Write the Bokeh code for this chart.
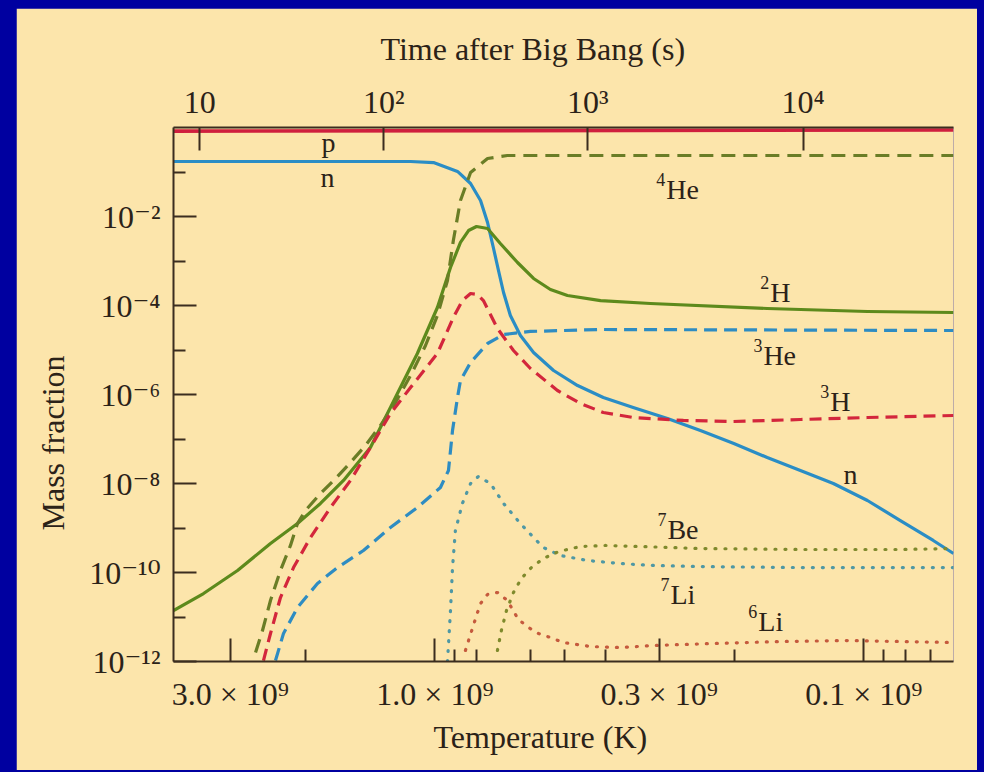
from bokeh.plotting import figure
from bokeh.models import Range1d, LogAxis, FixedTicker, Title, ColumnDataSource
from bokeh.embed import file_html
from bokeh.resources import INLINE
from bokeh.core.properties import value

# ---------------- data ----------------
# temperature in units of 1e9 K (x), mass fraction (y)
p_T = [4.07, 0.0618]
p_X = [0.83, 0.88]

n_T = [4.07, 2.06, 1.14, 1.008, 0.886, 0.826, 0.783, 0.754, 0.731, 0.711, 0.692, 0.667,
       0.632, 0.589, 0.529, 0.465, 0.405, 0.345, 0.287, 0.2405, 0.201, 0.168, 0.1406,
       0.1178, 0.0981, 0.0822, 0.0689, 0.0618]
n_X = [0.172, 0.172, 0.172, 0.163, 0.103, 0.0552, 0.0229, 7.33e-3, 2.01e-3, 6.12e-4,
       1.96e-4, 5.96e-5, 2.12e-5, 8.79e-6, 3.46e-6, 1.59e-6, 8.57e-7, 5.10e-7, 2.89e-7,
       1.55e-7, 7.92e-8, 3.84e-8, 1.96e-8, 1.0e-8, 4.15e-9, 1.47e-9, 5.24e-10, 2.67e-10]

h2_T = [4.07, 3.464, 2.886, 2.418, 2.092, 1.849, 1.634, 1.414, 1.270, 1.099, 0.987, 0.920,
        0.872, 0.835, 0.800, 0.754, 0.704, 0.642, 0.589, 0.538, 0.491, 0.411, 0.3145, 0.168,
        0.0981, 0.0618]
h2_X = [1.40e-11, 3.37e-11, 1.11e-10, 4.49e-10, 1.26e-9, 3.56e-9, 1.17e-8, 6.44e-8, 5.10e-7,
        8.34e-6, 9.02e-5, 7.14e-4, 2.61e-3, 4.84e-3, 5.96e-3, 5.37e-3, 2.47e-3, 9.25e-4,
        4.05e-4, 2.29e-4, 1.68e-4, 1.29e-4, 1.11e-4, 8.57e-5, 7.33e-5, 6.97e-5]

he4_T = [2.620, 2.524, 2.418, 2.292, 2.172, 2.092, 2.004, 1.849, 1.706, 1.574, 1.452, 1.340,
         1.236, 1.140, 1.052, 0.987, 0.935, 0.906, 0.872, 0.826, 0.754, 0.678, 0.0618]
he4_X = [1.59e-12, 4.98e-12, 2.35e-11, 1.11e-10, 4.05e-10, 1.26e-9, 2.47e-9, 5.96e-9, 1.29e-8,
         2.96e-8, 7.15e-8, 2.01e-7, 6.61e-7, 2.67e-6, 1.26e-5, 5.96e-5, 3.65e-4, 2.89e-3,
         0.0229, 0.0975, 0.201, 0.235, 0.235]

h3_T = [2.511, 2.418, 2.292, 2.137, 1.951, 1.752, 1.574, 1.414, 1.270, 1.140, 0.987, 0.906,
        0.863, 0.826, 0.796, 0.771, 0.715, 0.656, 0.599, 0.518, 0.458, 0.405, 0.345, 0.2635,
        0.2014, 0.1406, 0.0981, 0.0618]
h3_X = [1.05e-12, 4.26e-12, 2.74e-11, 1.29e-10, 6.12e-10, 2.89e-9, 1.17e-8, 6.44e-8, 3.74e-7,
        1.44e-6, 8.34e-6, 5.37e-5, 1.29e-4, 1.86e-4, 1.77e-4, 1.29e-4, 3.04e-5, 9.75e-6,
        3.84e-6, 1.23e-6, 6.28e-7, 3.94e-7, 3.04e-7, 2.61e-7, 2.47e-7, 2.74e-7, 3.04e-7,
        3.37e-7]

he3_T = [2.354, 2.255, 2.092, 1.879, 1.688, 1.468, 1.270, 1.099, 0.971, 0.930, 0.910, 0.886,
         0.872, 0.826, 0.754, 0.692, 0.599, 0.411, 0.0618]
he3_X = [1.05e-12, 4.26e-12, 1.63e-11, 5.66e-11, 1.29e-10, 3.12e-10, 1.03e-9, 2.89e-9, 8.13e-9,
         1.96e-8, 1.55e-7, 8.57e-7, 2.06e-6, 5.24e-6, 1.40e-5, 2.23e-5, 2.61e-5, 2.89e-5, 2.74e-5]

li7_T = [0.935, 0.920, 0.910, 0.896, 0.863, 0.826, 0.792, 0.742, 0.692, 0.632, 0.589, 0.559,
         0.510, 0.441, 0.3695, 0.3095, 0.2405, 0.1406, 0.0618]
li7_X = [1.0e-12, 1.40e-11, 1.29e-10, 8.79e-10, 3.56e-9, 1.0e-8, 1.44e-8, 1.0e-8, 3.56e-9,
         1.26e-9, 6.12e-10, 3.65e-10, 2.41e-10, 1.86e-10, 1.59e-10, 1.44e-10, 1.36e-10,
         1.29e-10, 1.29e-10]

be7_T = [0.715, 0.700, 0.681, 0.656, 0.629, 0.596, 0.559, 0.515, 0.458, 0.4004, 0.332, 0.2405,
         0.1406, 0.0822, 0.0618]
be7_X = [1.77e-12, 4.98e-12, 1.40e-11, 3.56e-11, 7.33e-11, 1.29e-10, 2.06e-10, 2.96e-10,
         3.84e-10, 4.05e-10, 3.84e-10, 3.46e-10, 3.29e-10, 3.29e-10, 3.46e-10]

li6_T = [0.849, 0.835, 0.818, 0.800, 0.783, 0.754, 0.715, 0.678, 0.639, 0.605, 0.574, 0.538,
         0.502, 0.434, 0.3695, 0.3095, 0.2243, 0.1565, 0.1093, 0.0618]
li6_X = [1.77e-12, 2.96e-12, 5.52e-12, 1.08e-11, 2.01e-11, 3.21e-11, 3.56e-11, 2.35e-11,
         8.79e-12, 5.81e-12, 4.26e-12, 3.46e-12, 2.67e-12, 2.17e-12, 2.06e-12, 2.29e-12,
         2.54e-12, 2.81e-12, 2.96e-12, 2.67e-12]

# curve labels
label_base = ["p", "n", "He", "H", "He", "H", "n", "Be", "Li", "Li"]
label_sup = ["", "", "4", "2", "3", "3", "", "7", "7", "6"]
label_T = [1.839, 1.849, 0.2887, 0.1652, 0.1715, 0.1197, 0.1116, 0.2871, 0.2825, 0.1762]
label_X = [0.304, 0.0497, 0.0267, 1.29e-4, 4.98e-6, 4.60e-7, 1.05e-8, 6.12e-10, 2.12e-11, 5.24e-12]

# axis ticks
temp_ticks = [3.0, 1.0, 0.3, 0.1]
temp_labels = ["3.0 × 10⁹", "1.0 × 10⁹", "0.3 × 10⁹", "0.1 × 10⁹"]
temp_minor = [2.0, 0.9, 0.8, 0.6, 0.5, 0.4, 0.2, 0.09, 0.08, 0.07]

frac_ticks = [1e-12, 1e-10, 1e-8, 1e-6, 1e-4, 1e-2]
frac_labels = ["10⁻¹²", "10⁻¹⁰", "10⁻⁸", "10⁻⁶", "10⁻⁴", "10⁻²"]
frac_minor = [1e-11, 1e-9, 1e-7, 1e-5, 1e-3, 1e-1]

time_ticks_T = [3.534, 1.316, 0.4402, 0.1385]   # temperature at t = 10, 100, 1000, 10000 s
time_labels = ["10", "10²", "10³", "10⁴"]

# ---------------- styling ----------------
FONT = "Liberation Serif, DejaVu Serif"
TEXT = "#2b2218"
AXIS = "#3b2d1f"
TAN = "#fce5ab"
BLUE = "#0000a0"

p = figure(width=961, height=762, x_axis_type="log", y_axis_type="log",
           x_range=Range1d(4.07, 0.0618), y_range=Range1d(1e-12, 1.0),
           output_backend="svg", toolbar_location=None,
           min_border_left=157, min_border_right=24, min_border_top=119, min_border_bottom=109,
           background_fill_color=TAN, border_fill_color=TAN, outline_line_color=None)
p.xgrid.visible = False
p.ygrid.visible = False


def style_axis(ax):
    ax.axis_line_color = AXIS
    ax.axis_line_width = 2
    ax.major_tick_line_color = AXIS
    ax.minor_tick_line_color = AXIS
    ax.major_tick_line_width = 2
    ax.minor_tick_line_width = 2
    ax.major_tick_in = 23
    ax.major_tick_out = 0
    ax.minor_tick_in = 12
    ax.minor_tick_out = 0
    ax.major_label_text_font = FONT
    ax.major_label_text_font_size = "32px"
    ax.major_label_text_color = TEXT


xa = p.below[0]
xa.ticker = FixedTicker(ticks=temp_ticks, minor_ticks=temp_minor)
xa.major_label_overrides = dict(zip(temp_ticks, temp_labels))
style_axis(xa)
xa.major_label_standoff = 14

ya = p.left[0]
ya.ticker = FixedTicker(ticks=frac_ticks, minor_ticks=frac_minor)
ya.major_label_overrides = dict(zip(frac_ticks, frac_labels))
style_axis(ya)
ya.major_label_standoff = 13

ta = LogAxis(ticker=FixedTicker(ticks=time_ticks_T, minor_ticks=[]),
             major_label_overrides=dict(zip(time_ticks_T, time_labels)))
style_axis(ta)
ta.major_label_standoff = 8
ta.minor_tick_in = 0
p.add_layout(ta, "above")

# ---------------- axis titles ----------------
p.title = Title(text="Time after Big Bang (s)", align="left", offset=207, standoff=28,
                text_font=FONT, text_font_size="32px", text_font_style="normal",
                text_color=TEXT)
p.title_location = "above"
p.add_layout(Title(text="Temperature (K)", align="left", offset=260, standoff=4,
                   text_font=FONT, text_font_size="32px", text_font_style="normal",
                   text_color=TEXT), "below")
p.add_layout(Title(text="Mass fraction", align="left", offset=131, standoff=31,
                   text_font=FONT, text_font_size="32px", text_font_style="normal",
                   text_color=TEXT), "left")

# ---------------- curves ----------------
SOLID_W = 3.2
p.line(p_T, p_X, line_color="#cf1f3e", line_width=3.6)
p.line(n_T, n_X, line_color="#2a8dc5", line_width=SOLID_W, line_join="round")
p.line(h2_T, h2_X, line_color="#5d8a1c", line_width=SOLID_W, line_join="round")
p.line(he4_T, he4_X, line_color="#6a7d26", line_width=SOLID_W, line_dash="14 8", line_join="round")
p.line(h3_T, h3_X, line_color="#d3263c", line_width=SOLID_W, line_dash="12 7", line_join="round")
p.line(he3_T, he3_X, line_color="#2e8cc2", line_width=SOLID_W, line_dash="13 7", line_join="round")
p.line(li7_T, li7_X, line_color="#4f98a4", line_width=3.2, line_dash="1 9", line_cap="round")
p.line(be7_T, be7_X, line_color="#7f8a2c", line_width=3.2, line_dash="1 9", line_cap="round")
p.line(li6_T, li6_X, line_color="#c55a3d", line_width=3.2, line_dash="1 9", line_cap="round")

# ---------------- curve labels ----------------
lab = ColumnDataSource(dict(x=label_T, y=label_X, base=label_base, sup=label_sup))
p.text(x="x", y="y", text="base", source=lab, text_font=value(FONT), text_font_size="28px",
       text_align="left", text_baseline="alphabetic", text_color=TEXT, y_offset=-8)
p.text(x="x", y="y", text="sup", source=lab, text_font=value(FONT), text_font_size="18px",
       text_align="right", text_baseline="alphabetic", text_color=TEXT,
       x_offset=-1, y_offset=-18)

css = ("<style>html, body { background-color: %s !important; overflow: hidden !important; }"
       " body { margin: 0 !important; padding: 8px 0 0 16px !important; }</style>" % BLUE)
html = file_html(p, INLINE, title="Big Bang nucleosynthesis")
html = html.replace("</head>", css + "</head>", 1)
open("out.html", "w").write(html)
